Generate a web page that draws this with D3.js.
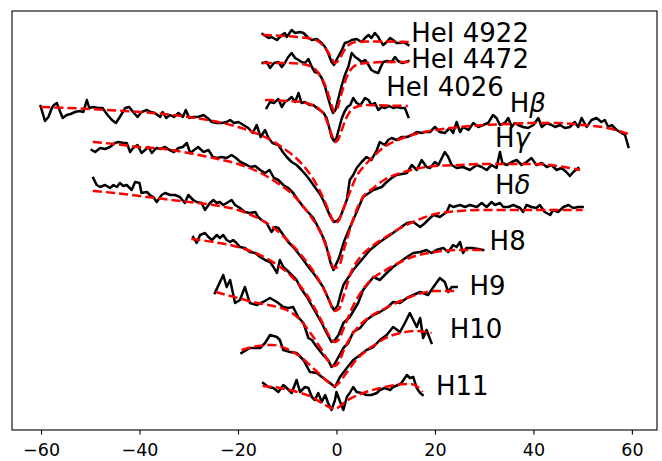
<!DOCTYPE html>
<html>
<head>
<meta charset="utf-8">
<script src="https://cdnjs.cloudflare.com/ajax/libs/d3/7.8.5/d3.min.js"></script>
<style>
  body { margin: 0; background: #fff; }
  svg { display: block; font-family: "DejaVu Sans", sans-serif; }
</style>
</head>
<body>
<div id="chart"></div>
<script>

var heI4922Obs = [[-15.0,3.96],[-13.8,3.92],[-13.2,3.93],[-12.1,3.90],[-11.1,3.95],[-10.5,3.97],[-10.1,3.93],[-9.1,4.00],[-8.4,3.97],[-7.4,3.98],[-6.7,3.97],[-5.7,3.92],[-5.0,3.90],[-4.0,3.91],[-3.0,3.87],[-2.3,3.83],[-1.7,3.77],[-1.0,3.68],[-0.5,3.65],[0.2,3.72],[1.1,3.80],[1.7,3.87],[2.4,3.88],[3.1,3.90],[4.1,3.91],[5.1,3.88],[5.8,3.92],[6.5,3.95],[7.1,3.92],[7.8,3.97],[8.5,3.93],[8.8,3.90],[9.5,3.85],[10.2,3.88],[10.9,3.92],[11.5,3.90],[12.2,3.87],[12.9,3.87],[13.6,3.88],[14.6,3.85]];
var heI4922Fit = [[-15,3.95],[-8,3.93],[-5,3.91],[-3.5,3.88],[-2,3.80],[-1,3.72],[-0.3,3.67],[0.5,3.70],[1.5,3.79],[2.5,3.85],[4,3.88],[8,3.885],[15,3.88]];

var heI4472Obs = [[-15.0,3.67],[-14.2,3.68],[-13.5,3.62],[-12.7,3.67],[-11.8,3.68],[-11.1,3.63],[-10.5,3.67],[-9.8,3.73],[-9.1,3.77],[-8.4,3.72],[-7.7,3.70],[-7.1,3.68],[-6.4,3.67],[-5.7,3.71],[-5.0,3.63],[-4.4,3.58],[-3.7,3.57],[-3.0,3.52],[-2.3,3.43],[-1.7,3.32],[-1.1,3.22],[-0.7,3.17],[-0.2,3.20],[0.4,3.32],[1.1,3.45],[1.7,3.55],[2.4,3.63],[3.1,3.77],[3.8,3.73],[4.4,3.71],[5.1,3.68],[5.8,3.70],[6.5,3.65],[7.1,3.60],[7.8,3.58],[8.5,3.57],[9.0,3.63],[9.5,3.68],[10.3,3.69],[11.2,3.68],[11.9,3.73],[12.5,3.69],[13.4,3.67],[14.6,3.69]];
var heI4472Fit = [[-15,3.67],[-10,3.67],[-7,3.66],[-5,3.63],[-4,3.59],[-3,3.52],[-2,3.41],[-1,3.25],[-0.4,3.18],[0.2,3.22],[1,3.36],[2,3.52],[3,3.61],[4,3.65],[6,3.67],[10,3.68],[15,3.68]];

var heI4026Obs = [[-14.2,3.22],[-13.5,3.28],[-12.7,3.27],[-11.8,3.31],[-11.1,3.23],[-10.5,3.28],[-9.8,3.30],[-9.1,3.33],[-8.4,3.28],[-7.7,3.37],[-7.1,3.27],[-6.4,3.28],[-5.5,3.25],[-4.7,3.25],[-4.0,3.22],[-3.4,3.20],[-2.6,3.17],[-2.0,3.12],[-1.5,3.03],[-1.0,2.93],[-0.5,2.89],[0.0,2.92],[0.6,3.03],[1.1,3.12],[1.6,3.18],[2.2,3.23],[2.8,3.25],[3.4,3.32],[4.1,3.27],[4.9,3.25],[5.8,3.32],[6.5,3.30],[7.1,3.25],[7.8,3.27],[8.5,3.20],[9.2,3.23],[9.8,3.22],[10.7,3.24],[11.5,3.22],[12.2,3.23],[13.2,3.22],[13.9,3.22],[14.6,3.13]];
var heI4026Fit = [[-14.5,3.30],[-10,3.29],[-7,3.28],[-5,3.25],[-3.5,3.21],[-2.5,3.15],[-1.5,3.03],[-0.8,2.93],[-0.3,2.88],[0.3,2.90],[1,2.99],[2,3.12],[3,3.20],[4,3.23],[6,3.25],[10,3.245],[14.5,3.24]];

var hBetaObs = [[-60.1,3.24],[-59.2,3.09],[-58.5,3.13],[-57.8,3.22],[-57.4,3.25],[-56.8,3.27],[-56.1,3.18],[-55.6,3.12],[-54.8,3.15],[-54.0,3.16],[-53.1,3.18],[-52.2,3.19],[-51.4,3.18],[-50.7,3.30],[-50.2,3.22],[-49.4,3.23],[-48.4,3.22],[-47.5,3.22],[-46.5,3.15],[-45.6,3.10],[-44.8,3.07],[-44.0,3.13],[-42.9,3.22],[-42.1,3.23],[-41.3,3.18],[-40.4,3.13],[-39.6,3.18],[-38.5,3.20],[-37.7,3.18],[-36.9,3.17],[-35.8,3.13],[-35.3,3.18],[-34.6,3.12],[-33.8,3.15],[-33.0,3.13],[-32.1,3.17],[-31.2,3.13],[-30.6,3.20],[-29.9,3.12],[-29.1,3.13],[-28.1,3.13],[-27.0,3.15],[-26.2,3.12],[-25.3,3.08],[-24.3,3.07],[-23.3,3.07],[-22.3,3.08],[-21.6,3.10],[-20.8,3.07],[-19.9,3.08],[-18.9,3.05],[-17.9,3.02],[-17.0,2.97],[-16.2,3.05],[-15.4,2.93],[-14.5,3.00],[-13.8,2.92],[-13.0,2.87],[-11.8,2.85],[-10.9,2.78],[-10.1,2.73],[-9.1,2.68],[-8.1,2.65],[-7.1,2.60],[-6.2,2.55],[-5.4,2.50],[-4.4,2.43],[-3.5,2.37],[-2.7,2.30],[-2.0,2.22],[-1.3,2.14],[-0.5,2.08],[0.1,2.09],[0.7,2.12],[2.1,2.30],[2.7,2.50],[3.4,2.55],[4.1,2.62],[5.1,2.68],[6.1,2.73],[7.1,2.70],[8.2,2.80],[8.8,2.88],[9.8,2.85],[10.5,2.90],[11.2,2.92],[12.2,2.90],[13.2,2.93],[14.3,2.93],[15.3,2.95],[16.3,2.98],[17.3,2.97],[18.0,2.98],[19.0,2.98],[20.0,3.03],[21.0,2.98],[22.0,2.97],[23.0,3.02],[23.7,2.97],[24.4,3.08],[25.1,2.98],[25.7,3.03],[26.8,3.00],[27.8,3.07],[28.8,3.03],[29.8,3.05],[30.8,3.07],[31.8,3.15],[32.5,3.12],[33.2,3.05],[34.2,3.07],[34.9,3.12],[35.6,3.03],[36.2,3.07],[36.9,3.05],[37.9,3.03],[38.9,3.02],[40.0,3.05],[41.0,3.12],[41.7,3.03],[42.7,3.07],[43.7,3.05],[44.4,3.03],[45.4,3.05],[46.4,3.02],[47.4,3.03],[48.4,3.08],[49.1,3.03],[49.8,3.12],[50.8,3.03],[51.8,3.10],[52.8,3.12],[53.8,3.08],[54.5,3.10],[55.2,3.03],[55.9,3.05],[56.9,3.00],[57.9,2.97],[58.6,2.95],[58.9,2.90],[59.3,2.83]];
var hBetaFit = [[-60,3.23],[-50,3.21],[-40,3.18],[-35,3.16],[-30,3.13],[-25,3.09],[-20,3.03],[-16,2.96],[-13,2.89],[-10,2.79],[-8,2.71],[-6,2.60],[-4,2.45],[-2.5,2.30],[-1.3,2.16],[-0.4,2.07],[0.4,2.09],[1.3,2.20],[2.5,2.35],[4,2.53],[6,2.66],[8,2.76],[10,2.84],[13,2.91],[16,2.96],[20,3.00],[25,3.03],[30,3.05],[35,3.06],[40,3.07],[45,3.07],[50,3.05],[55,3.02],[59.3,2.96]];

var hGammaObs = [[-49.7,2.80],[-49.0,2.78],[-48.0,2.82],[-47.0,2.81],[-46.0,2.83],[-45.0,2.87],[-44.3,2.88],[-43.3,2.87],[-42.6,2.87],[-41.9,2.78],[-41.3,2.82],[-40.4,2.85],[-39.6,2.77],[-38.9,2.80],[-38.2,2.83],[-37.5,2.77],[-36.6,2.82],[-35.8,2.81],[-34.8,2.83],[-33.9,2.80],[-33.0,2.78],[-32.1,2.82],[-31.2,2.83],[-30.4,2.87],[-29.7,2.77],[-28.9,2.80],[-28.1,2.83],[-27.0,2.78],[-26.0,2.80],[-25.1,2.73],[-24.3,2.72],[-23.3,2.73],[-22.3,2.72],[-21.3,2.75],[-20.4,2.72],[-19.5,2.68],[-18.2,2.65],[-17.4,2.63],[-16.5,2.64],[-15.5,2.60],[-14.5,2.57],[-13.6,2.60],[-12.7,2.52],[-11.8,2.50],[-10.8,2.45],[-9.8,2.42],[-8.8,2.37],[-7.8,2.30],[-6.7,2.23],[-4.7,2.12],[-3.4,2.00],[-2.3,1.88],[-1.7,1.77],[-1.2,1.67],[-0.6,1.60],[0.5,1.72],[1.5,1.88],[2.5,2.00],[3.4,2.10],[5.4,2.33],[7.5,2.40],[9.2,2.43],[10.2,2.48],[11.2,2.52],[12.2,2.55],[14.3,2.57],[15.3,2.65],[16.3,2.60],[17.3,2.70],[18.3,2.63],[19.0,2.62],[20.0,2.68],[20.7,2.65],[22.0,2.78],[22.7,2.73],[23.4,2.65],[24.4,2.62],[25.7,2.63],[27.1,2.60],[28.5,2.65],[29.5,2.63],[30.5,2.60],[31.5,2.65],[32.5,2.62],[33.2,2.78],[33.7,2.67],[34.6,2.65],[35.6,2.68],[36.6,2.70],[37.6,2.65],[38.6,2.68],[39.6,2.72],[40.6,2.65],[41.7,2.67],[42.7,2.63],[43.7,2.65],[44.7,2.60],[45.7,2.62],[46.7,2.58],[47.4,2.54],[48.1,2.58],[49.1,2.62]];
var hGammaFit = [[-49.5,2.88],[-45,2.86],[-40,2.83],[-35,2.81],[-30,2.77],[-25,2.72],[-20,2.66],[-15,2.56],[-12,2.47],[-9,2.36],[-7,2.25],[-5,2.12],[-3,1.95],[-1.5,1.75],[-0.5,1.62],[0.5,1.64],[1.5,1.80],[3,2.05],[5,2.30],[7.5,2.42],[10,2.51],[13,2.57],[16,2.61],[20,2.64],[25,2.65],[30,2.66],[35,2.66],[40,2.66],[45,2.64],[49.5,2.60]];

var hDeltaObs = [[-49.4,2.52],[-48.7,2.45],[-48.0,2.43],[-47.0,2.45],[-46.0,2.42],[-45.3,2.45],[-44.6,2.43],[-44.0,2.47],[-43.3,2.44],[-42.6,2.45],[-41.6,2.40],[-40.9,2.48],[-40.0,2.47],[-39.6,2.37],[-38.5,2.38],[-37.9,2.35],[-37.2,2.33],[-36.5,2.28],[-35.5,2.35],[-34.8,2.37],[-33.8,2.35],[-32.8,2.35],[-31.8,2.33],[-30.8,2.27],[-30.1,2.35],[-29.1,2.30],[-28.4,2.28],[-27.4,2.27],[-26.7,2.20],[-25.7,2.27],[-25.0,2.30],[-24.3,2.27],[-23.7,2.28],[-23.0,2.25],[-22.3,2.27],[-21.3,2.30],[-20.6,2.25],[-19.6,2.22],[-18.6,2.18],[-17.6,2.17],[-16.5,2.18],[-15.9,2.13],[-15.2,2.10],[-14.2,2.07],[-13.2,1.98],[-12.5,2.03],[-11.8,2.02],[-10.8,1.95],[-9.8,1.88],[-8.8,1.83],[-7.8,1.77],[-6.7,1.70],[-5.7,1.63],[-4.7,1.57],[-3.7,1.50],[-2.7,1.43],[-1.8,1.33],[-1.0,1.24],[-0.5,1.20],[0.2,1.24],[0.8,1.35],[1.4,1.45],[3.4,1.60],[5.1,1.70],[6.8,1.80],[8.8,1.88],[10.9,1.95],[12.9,2.02],[14.3,2.07],[15.6,2.08],[17.0,2.03],[18.0,2.07],[18.6,2.10],[19.7,2.15],[21.0,2.13],[22.4,2.18],[23.0,2.25],[23.7,2.23],[25.1,2.25],[26.1,2.23],[27.1,2.25],[28.5,2.23],[29.5,2.27],[30.5,2.23],[31.5,2.28],[32.2,2.25],[33.2,2.27],[33.9,2.23],[34.9,2.23],[35.9,2.25],[37.3,2.22],[37.9,2.18],[38.6,2.25],[39.6,2.23],[40.6,2.22],[41.3,2.25],[42.3,2.18],[43.4,2.15],[44.0,2.20],[45.0,2.18],[46.1,2.23],[47.1,2.25],[48.1,2.22],[49.1,2.23],[50.0,2.23]];
var hDeltaFit = [[-49.5,2.39],[-45,2.37],[-40,2.34],[-35,2.31],[-30,2.28],[-25,2.25],[-20,2.20],[-16,2.12],[-13,2.03],[-10,1.90],[-7,1.74],[-5,1.61],[-3,1.45],[-1.5,1.30],[-0.5,1.19],[0.5,1.21],[1.5,1.35],[3,1.58],[5,1.74],[7,1.83],[10,1.93],[13,2.02],[16,2.09],[20,2.16],[25,2.19],[30,2.20],[40,2.20],[50,2.20]];

var h8Obs = [[-29.1,1.93],[-28.4,1.87],[-27.7,1.95],[-26.7,1.97],[-26.0,1.93],[-25.3,1.90],[-24.3,1.95],[-23.7,1.92],[-23.0,1.95],[-22.3,1.90],[-21.6,1.88],[-21.0,1.90],[-20.3,1.87],[-19.6,1.83],[-18.6,1.82],[-17.6,1.78],[-16.5,1.77],[-15.5,1.73],[-14.5,1.70],[-13.5,1.68],[-12.8,1.63],[-12.1,1.57],[-11.5,1.70],[-10.8,1.63],[-10.1,1.60],[-9.1,1.55],[-8.1,1.50],[-7.4,1.43],[-6.0,1.33],[-4.5,1.20],[-3.0,1.07],[-2.0,0.97],[-1.0,0.88],[-0.3,0.90],[0.4,0.95],[1.4,1.07],[2.7,1.13],[4.4,1.27],[5.4,1.40],[7.5,1.53],[8.8,1.50],[10.2,1.57],[11.5,1.63],[12.9,1.68],[14.3,1.73],[15.6,1.77],[17.0,1.78],[18.3,1.80],[19.3,1.77],[20.3,1.80],[21.7,1.82],[22.7,1.78],[23.7,1.85],[24.4,1.83],[25.1,1.88],[25.7,1.77],[26.4,1.82],[27.5,1.82],[28.8,1.81],[29.8,1.80]];
var h8Fit = [[-29.5,1.91],[-25,1.88],[-20,1.83],[-16,1.76],[-12,1.65],[-9,1.53],[-6,1.35],[-4,1.18],[-2.5,1.04],[-1.2,0.92],[-0.4,0.88],[0.4,0.90],[1.5,1.02],[3,1.20],[5,1.38],[7,1.50],[10,1.60],[13,1.68],[16,1.74],[20,1.78],[25,1.80],[30,1.80]];

var h9Obs = [[-24.7,1.37],[-23.0,1.55],[-22.3,1.43],[-21.6,1.50],[-20.6,1.27],[-19.6,1.30],[-18.6,1.43],[-17.6,1.27],[-16.2,1.25],[-14.9,1.28],[-13.5,1.32],[-12.1,1.28],[-10.8,1.23],[-9.8,1.22],[-8.8,1.23],[-7.8,1.13],[-6.7,1.07],[-5.7,0.92],[-5.0,0.90],[-4.0,0.83],[-2.7,0.75],[-1.7,0.70],[-1.0,0.63],[-0.5,0.65],[0.4,0.73],[1.4,0.82],[2.4,0.87],[3.4,0.98],[4.8,1.02],[6.1,1.10],[7.5,1.15],[8.8,1.18],[10.2,1.22],[11.5,1.28],[12.9,1.27],[14.3,1.32],[15.6,1.35],[17.0,1.38],[18.6,1.35],[19.7,1.43],[21.0,1.52],[22.0,1.48],[22.7,1.38],[23.4,1.43],[24.4,1.43]];
var h9Fit = [[-24.5,1.38],[-20,1.32],[-16,1.27],[-12,1.23],[-9,1.17],[-7,1.08],[-5,0.95],[-3,0.80],[-1.5,0.68],[-0.5,0.64],[0.5,0.68],[1.5,0.80],[3,0.94],[5,1.06],[7,1.14],[10,1.22],[13,1.29],[16,1.35],[20,1.39],[24.5,1.39]];

var h10Obs = [[-19.3,0.77],[-17.6,0.82],[-15.5,0.82],[-14.5,0.87],[-13.5,0.95],[-12.1,0.93],[-11.5,0.90],[-10.8,0.80],[-9.4,0.78],[-8.1,0.77],[-6.7,0.70],[-5.4,0.58],[-4.0,0.57],[-2.7,0.52],[-1.3,0.47],[-0.3,0.43],[0.7,0.53],[2.1,0.62],[3.4,0.70],[4.8,0.75],[6.1,0.80],[7.5,0.83],[8.8,0.90],[10.2,0.95],[11.5,1.03],[12.9,0.98],[13.9,1.07],[14.9,1.17],[15.6,1.10],[16.3,1.03],[17.0,1.12],[17.6,0.92],[18.3,1.00],[19.3,0.87]];
var h10Fit = [[-19.3,0.80],[-16,0.84],[-13,0.85],[-10,0.81],[-7,0.72],[-5,0.63],[-3,0.54],[-1.5,0.47],[-0.4,0.44],[0.5,0.47],[2,0.57],[4,0.70],[6,0.79],[8,0.86],[10,0.92],[13,0.97],[16,0.99],[19.3,0.97]];

var h11Obs = [[-14.9,0.47],[-13.8,0.43],[-12.8,0.42],[-11.8,0.38],[-10.8,0.45],[-10.1,0.42],[-9.1,0.37],[-8.1,0.50],[-7.4,0.38],[-6.4,0.43],[-5.7,0.42],[-5.0,0.33],[-4.4,0.30],[-3.7,0.37],[-3.0,0.28],[-2.3,0.35],[-1.7,0.27],[-1.0,0.20],[-0.3,0.30],[0.0,0.38],[0.6,0.30],[1.4,0.20],[2.1,0.33],[2.7,0.37],[3.4,0.43],[4.1,0.38],[5.1,0.37],[6.1,0.35],[7.1,0.35],[8.2,0.37],[8.8,0.40],[9.8,0.42],[10.9,0.40],[11.5,0.43],[12.5,0.45],[13.2,0.47],[14.3,0.55],[14.9,0.52],[15.6,0.53],[16.3,0.42],[17.0,0.37],[17.5,0.35]];
var h11Fit = [[-15,0.44],[-11.5,0.42],[-8,0.38],[-5,0.33],[-3,0.27],[-1.5,0.23],[-0.5,0.21],[0.5,0.23],[2,0.29],[3.5,0.33],[6,0.38],[9,0.42],[12,0.45],[15,0.46],[16.5,0.43],[17.5,0.38]];

var lineNames = ["HeI 4922", "HeI 4472", "HeI 4026", "H\u03b2", "H\u03b3", "H\u03b4", "H8", "H9", "H10", "H11"];
// label anchor (velocity, offset flux)
var labelPos = [[15.2,3.88],[15.2,3.62],[10.1,3.34],[35.2,3.18],[32.2,2.83],[32.2,2.36],[31.1,1.80],[27.0,1.35],[23.0,0.92],[20.2,0.35]];
var obsSeries = [heI4922Obs, heI4472Obs, heI4026Obs, hBetaObs, hGammaObs, hDeltaObs, h8Obs, h9Obs, h10Obs, h11Obs];
var fitSeries = [heI4922Fit, heI4472Fit, heI4026Fit, hBetaFit, hGammaFit, hDeltaFit, h8Fit, h9Fit, h10Fit, h11Fit];
var xTicks = [-60, -40, -20, 0, 20, 40, 60];

var w = 662, h = 461;
var box = {x0: 12, x1: 657, y0: 11, y1: 430};

var svg = d3.select("#chart").append("svg")
  .attr("width", w)
  .attr("height", h);

var x = d3.scaleLinear().domain([-65.9, 65.1]).range([box.x0, box.x1]);
var y = d3.scaleLinear().domain([0, 4.19]).range([box.y1, box.y0]);

var line = d3.line()
  .x(function (d) { return x(d[0]); })
  .y(function (d) { return y(d[1]); });

var smooth = d3.line()
  .x(function (d) { return x(d[0]); })
  .y(function (d) { return y(d[1]); })
  .curve(d3.curveMonotoneX);

var plot = svg.append("g");

// observed spectra first, fits drawn on top
plot.selectAll("path.obs")
  .data(obsSeries)
  .enter().append("path")
  .attr("class", "obs")
  .attr("d", line)
  .attr("fill", "none")
  .attr("stroke", "#000")
  .attr("stroke-width", 2.5)
  .attr("stroke-linejoin", "round")
  .attr("stroke-linecap", "square");

plot.selectAll("path.fit")
  .data(fitSeries)
  .enter().append("path")
  .attr("class", "fit")
  .attr("d", smooth)
  .attr("fill", "none")
  .attr("stroke", "#ff0000")
  .attr("stroke-width", 2.5)
  .attr("stroke-dasharray", "9.2,4");

// labels; greek letters are set in italic like mathtext
var labels = plot.selectAll("text.lbl")
  .data(lineNames)
  .enter().append("text")
  .attr("class", "lbl")
  .attr("x", function (d, i) { return x(labelPos[i][0]); })
  .attr("y", function (d, i) { return y(labelPos[i][1]); })
  .attr("font-size", "26px")
  .attr("fill", "#000");

labels.each(function (d) {
  var t = d3.select(this);
  var last = d.charAt(d.length - 1);
  if (/[\u03b1-\u03c9]/.test(last)) {
    t.append("tspan").text(d.slice(0, -1));
    t.append("tspan").attr("font-style", "italic").text(last);
  } else {
    t.text(d);
  }
});

// x axis
var xAxis = d3.axisBottom(x)
  .tickValues(xTicks)
  .tickSize(4.5)
  .tickSizeOuter(0)
  .tickPadding(9.5);

var ax = svg.append("g")
  .attr("transform", "translate(0," + box.y1 + ")")
  .call(xAxis);
ax.select(".domain").remove();
ax.selectAll("line").attr("stroke", "#000").attr("stroke-width", 1.1);
ax.selectAll("text")
  .attr("font-size", "17.5px")
  .attr("font-family", "DejaVu Sans, sans-serif")
  .attr("fill", "#000");

// frame
svg.append("rect")
  .attr("x", box.x0)
  .attr("y", box.y0)
  .attr("width", box.x1 - box.x0)
  .attr("height", box.y1 - box.y0)
  .attr("fill", "none")
  .attr("stroke", "#000")
  .attr("stroke-width", 1.1);
</script>
</body>
</html>
